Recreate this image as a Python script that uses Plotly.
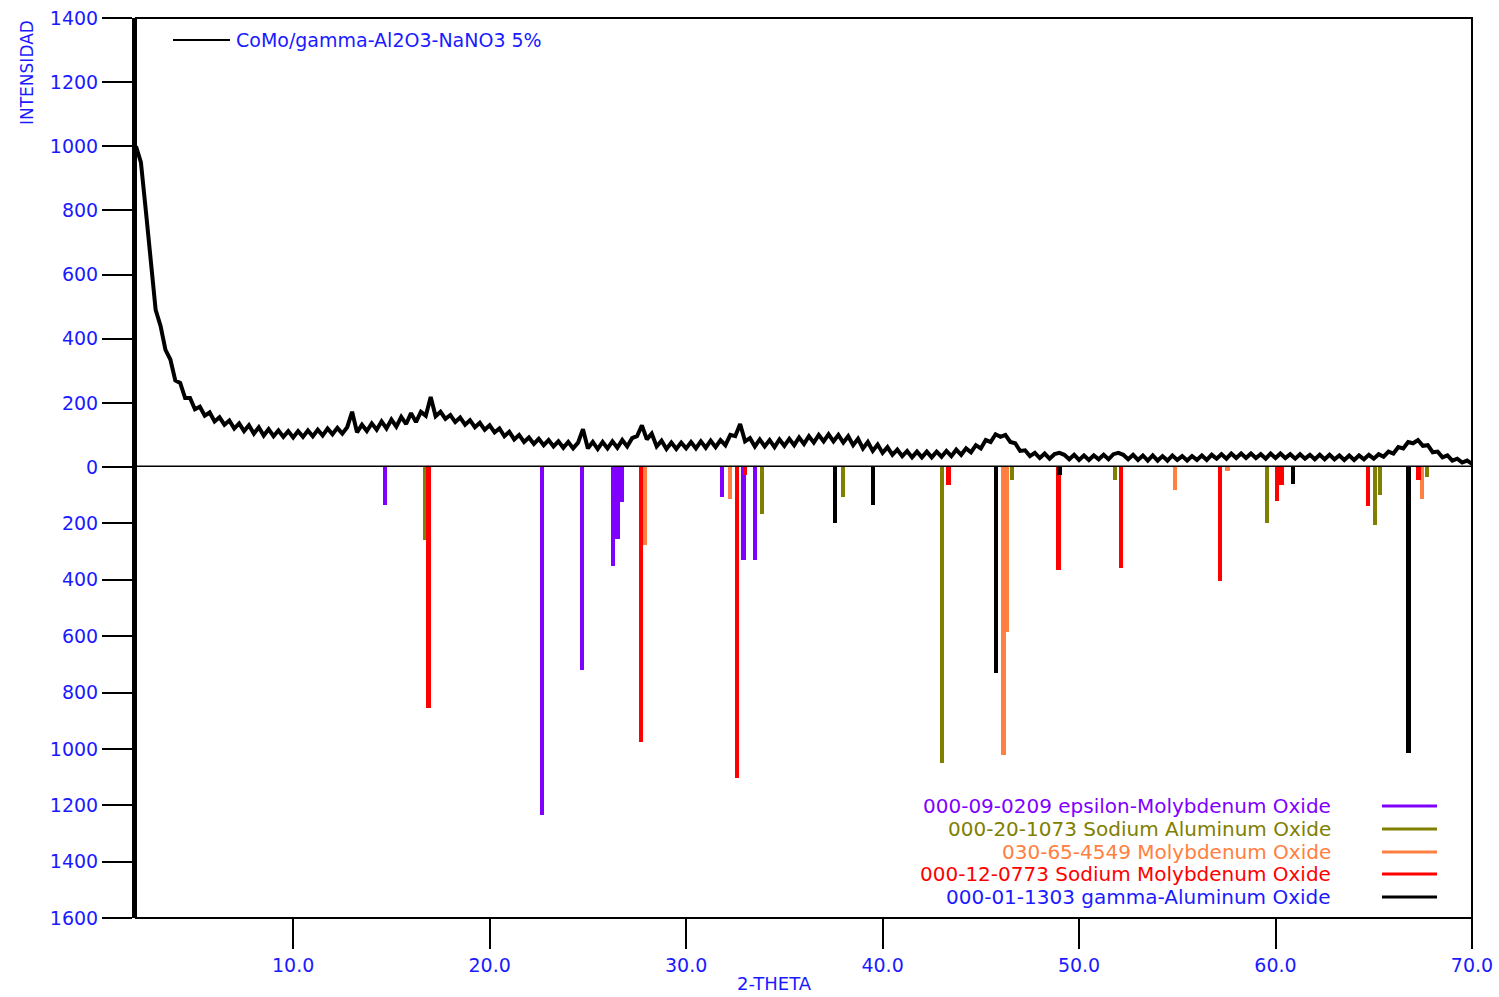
import plotly.graph_objects as go

# ---------------- data ----------------
two_theta_start = 2.0
two_theta_step = 0.25
intensity = [
    1000, 950, 800, 650,   # 2
    490, 440, 365, 335,    # 3
    270, 262, 215, 215,    # 4
    180, 188, 160, 170,    # 5
    142, 155, 132, 145,    # 6
    120, 136, 112, 130,    # 7
    104, 124, 98, 118,     # 8
    96, 114, 94, 112,      # 9
    92, 112, 94, 114,      # 10
    96, 116, 98, 120,      # 11
    102, 122, 104, 124,    # 12
    172, 108, 132, 112,    # 13
    136, 116, 142, 120,    # 14
    148, 126, 156, 134,    # 15
    168, 140, 172, 160,    # 16
    218, 158, 172, 150,    # 17
    162, 140, 154, 132,    # 18
    146, 124, 138, 116,    # 19
    130, 108, 120, 96,     # 20
    110, 86, 100, 78,      # 21
    92, 72, 88, 68,        # 22
    84, 64, 80, 60,        # 23
    78, 58, 76, 118,       # 24
    58, 78, 56, 78,        # 25
    58, 80, 60, 84,        # 26
    64, 90, 96, 130,       # 27
    86, 104, 64, 82,       # 28
    56, 76, 56, 76,        # 29
    58, 78, 58, 80,        # 30
    60, 82, 62, 84,        # 31
    68, 100, 96, 134,      # 32
    80, 90, 64, 86,        # 33
    64, 84, 62, 86,        # 34
    66, 88, 68, 92,        # 35
    72, 96, 76, 100,       # 36
    80, 102, 80, 100,      # 37
    76, 96, 68, 88,        # 38
    58, 78, 50, 70,        # 39
    44, 62, 38, 54,        # 40
    34, 50, 30, 48,        # 41
    30, 48, 30, 48,        # 42
    32, 50, 34, 54,        # 43
    38, 58, 46, 68,        # 44
    58, 84, 78, 102,       # 45
    94, 100, 78, 74,       # 46
    50, 52, 34, 44,        # 47
    28, 42, 26, 40,        # 48
    44, 38, 24, 38,        # 49
    22, 36, 22, 36,        # 50
    24, 38, 24, 40,        # 51
    44, 38, 24, 38,        # 52
    22, 36, 20, 36,        # 53
    20, 34, 20, 36,        # 54
    22, 34, 20, 34,        # 55
    22, 36, 22, 38,        # 56
    26, 40, 26, 42,        # 57
    28, 42, 28, 42,        # 58
    28, 40, 26, 42,        # 59
    28, 42, 28, 40,        # 60
    26, 40, 26, 38,        # 61
    24, 38, 24, 38,        # 62
    24, 36, 22, 36,        # 63
    22, 36, 24, 38,        # 64
    26, 40, 32, 48,        # 65
    42, 62, 58, 78,        # 66
    74, 84, 66, 68,        # 67
    46, 48, 30, 36,        # 68
    20, 26, 14, 20,        # 69
    10,                    # 70
]
two_theta = [round(two_theta_start + i * two_theta_step, 2) for i in range(len(intensity))]

sample_label = "CoMo/gamma-Al2O3-NaNO3 5%"

phase_names = [
    "000-09-0209 epsilon-Molybdenum Oxide",
    "000-20-1073 Sodium Aluminum Oxide",
    "030-65-4549 Molybdenum Oxide",
    "000-12-0773 Sodium Molybdenum Oxide",
    "000-01-1303 gamma-Aluminum Oxide",
]
phase_colors = ["#8000ff", "#808000", "#ff8040", "#ff0000", "#000000"]
phase_text_colors = ["#8000ff", "#808000", "#ff8040", "#ff0000", "#1a1aff"]

epsilon_moo3_pos = [14.68, 22.67, 24.71, 26.29, 26.50, 26.73, 31.82, 32.92, 33.51]
epsilon_moo3_int = [135, 1234, 720, 350, 255, 123, 105, 330, 330]

naalo2_pos = [16.72, 33.85, 38.00, 43.01, 46.57, 51.83, 54.90, 59.55, 65.06, 65.30, 67.70]
naalo2_int = [260, 165, 105, 1050, 45, 45, 35, 200, 205, 100, 35]

moo3_pos = [27.91, 32.24, 46.15, 46.30, 54.88, 57.55, 67.44]
moo3_int = [275, 115, 1020, 585, 80, 15, 115]

namoo_pos = [16.89, 27.71, 32.58, 33.00, 43.35, 48.95, 52.12, 57.18, 60.06, 60.30, 64.72, 67.28]
namoo_int = [855, 975, 1105, 30, 65, 365, 360, 405, 120, 65, 140, 45]

gamma_al2o3_pos = [37.58, 39.50, 45.78, 49.00, 60.90, 66.76]
gamma_al2o3_int = [200, 135, 730, 30, 60, 1015]

phase_positions = [epsilon_moo3_pos, naalo2_pos, moo3_pos, namoo_pos, gamma_al2o3_pos]
phase_intensities = [epsilon_moo3_int, naalo2_int, moo3_int, namoo_int, gamma_al2o3_int]

top_ticks = [0, 200, 400, 600, 800, 1000, 1200, 1400]
bottom_ticks = [200, 400, 600, 800, 1000, 1200, 1400, 1600]
x_ticks = [10, 20, 30, 40, 50, 60, 70]

# ---------------- layout helpers ----------------
W, H = 1499, 997
ML, MR, MT, MB = 136, 27, 18, 79
PW, PH = W - ML - MR, H - MT - MB
split = (H - MB - 467) / PH


def px(xp):
    return (xp - ML) / PW


def py(yp):
    return (H - MB - yp) / PH


BLUE = "#1a1aff"
FONT = "DejaVu Sans, Liberation Sans, Arial, sans-serif"

fig = go.Figure()

fig.add_trace(go.Scatter(
    x=two_theta, y=intensity, mode="lines",
    line=dict(color="black", width=4),
    xaxis="x", yaxis="y", showlegend=False, hoverinfo="skip",
))

for name, col, pos, inten in zip(phase_names, phase_colors, phase_positions, phase_intensities):
    fig.add_trace(go.Bar(
        x=pos, y=inten, base=0, width=0.22,
        marker=dict(color=col, line=dict(width=0)),
        xaxis="x", yaxis="y2", name=name, showlegend=False, hoverinfo="skip",
    ))

shapes = [
    dict(type="rect", xref="paper", yref="paper", x0=0, x1=1, y0=0, y1=1,
         line=dict(color="black", width=2), layer="above"),
    dict(type="line", xref="paper", yref="y", x0=0, x1=1, y0=0, y1=0,
         line=dict(color="black", width=3), layer="above"),
    dict(type="line", xref="paper", yref="paper", x0=px(173), x1=px(230), y0=py(40), y1=py(40),
         line=dict(color="black", width=2)),
]
annotations = [
    dict(text=sample_label, xref="paper", yref="paper", x=px(234), y=py(40),
         xanchor="left", yanchor="middle", showarrow=False,
         font=dict(family=FONT, size=19, color=BLUE)),
    dict(text="INTENSIDAD", xref="paper", yref="paper", x=px(27), y=py(73),
         xanchor="center", yanchor="middle", textangle=-90, showarrow=False,
         font=dict(family=FONT, size=17, color=BLUE)),
    dict(text="2-THETA", xref="paper", yref="paper", x=px(774), y=py(984),
         xanchor="center", yanchor="middle", showarrow=False,
         font=dict(family=FONT, size=18, color=BLUE)),
]
legend_y = [806, 829, 852, 874, 897]
for name, col, tcol, ly in zip(phase_names, phase_colors, phase_text_colors, legend_y):
    annotations.append(dict(
        text=name, xref="paper", yref="paper", x=px(1333), y=py(ly),
        xanchor="right", yanchor="middle", showarrow=False,
        font=dict(family=FONT, size=20, color=tcol)))
    shapes.append(dict(type="line", xref="paper", yref="paper",
                       x0=px(1382), x1=px(1437), y0=py(ly), y1=py(ly),
                       line=dict(color=col, width=3)))

axis_common = dict(
    ticks="outside", ticklen=30, tickwidth=2, tickcolor="black",
    showgrid=False, zeroline=False, automargin=False,
    tickfont=dict(family=FONT, size=19, color=BLUE),
)

fig.update_layout(
    width=W, height=H,
    margin=dict(l=ML, r=MR, t=MT, b=MB, autoexpand=False),
    paper_bgcolor="white", plot_bgcolor="white",
    barmode="overlay", bargap=0,
    showlegend=False,
    font=dict(family=FONT, color=BLUE),
    xaxis=dict(range=[2.0, 70.0], anchor="y2", tickvals=x_ticks, tickformat=".1f",
               showline=False, **axis_common),
    yaxis=dict(domain=[split, 1], range=[0, 1400], anchor="x", tickvals=top_ticks,
               showline=True, linewidth=4, linecolor="black", **axis_common),
    yaxis2=dict(domain=[0, split], range=[1600, 0], anchor="x", tickvals=bottom_ticks,
                showline=True, linewidth=4, linecolor="black", **axis_common),
    shapes=shapes,
    annotations=annotations,
)

fig.write_html("out.html", config={"displayModeBar": False})
